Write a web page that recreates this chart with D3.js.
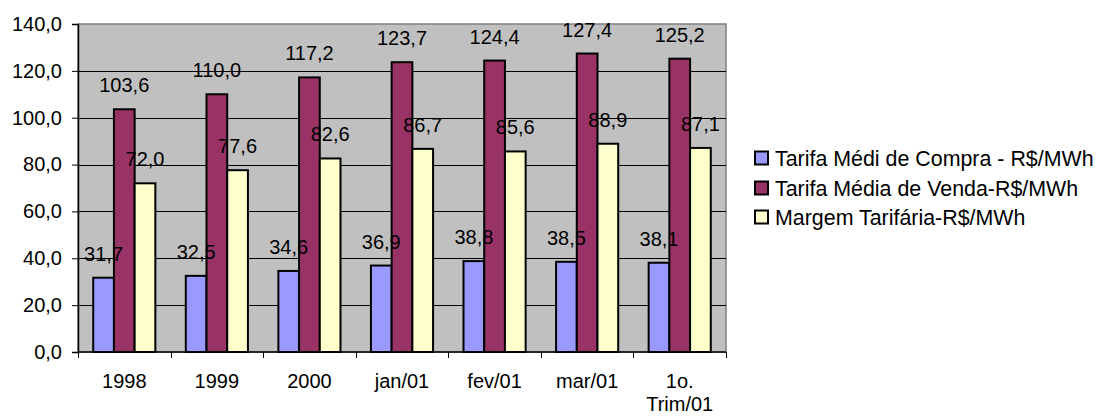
<!DOCTYPE html>
<html>
<head>
<meta charset="utf-8">
<script src="https://cdn.jsdelivr.net/npm/d3@7"></script>
<style>
  html, body { margin: 0; padding: 0; background: #fff; }
  svg { display: block; font-family: "Liberation Sans", Arial, sans-serif; }
</style>
</head>
<body>
<svg id="chart" width="1097" height="417"></svg>
<script>
// Categories along the x axis (the last one wraps onto two lines)
const categories = ["1998", "1999", "2000", "jan/01", "fev/01", "mar/01", "1o.\nTrim/01"];

// Series names as shown in the legend
const seriesNames = [
  "Tarifa Médi de Compra - R$/MWh",
  "Tarifa Média de Venda-R$/MWh",
  "Margem Tarifária-R$/MWh"
];

// Values per series, one per category
const compra = [31.7, 32.5, 34.6, 36.9, 38.8, 38.5, 38.1];
const venda  = [103.6, 110.0, 117.2, 123.7, 124.4, 127.4, 125.2];
const margem = [72.0, 77.6, 82.6, 86.7, 85.6, 88.9, 87.1];

// Y axis tick values
const yTicks = [0, 20, 40, 60, 80, 100, 120, 140];

const seriesValues = [compra, venda, margem];
const colors = ["#9999FF", "#993366", "#FFFFCC"];

const fmt = v => v.toFixed(1).replace(".", ",");

const svg = d3.select("#chart");
const plot = { left: 78, right: 726, top: 24, bottom: 352 };

const y = d3.scaleLinear().domain([0, 140]).range([plot.bottom, plot.top]);
const x0 = d3.scaleBand().domain(categories).range([plot.left, plot.right]).paddingInner(0).paddingOuter(0);
const x1 = d3.scaleBand().domain(d3.range(seriesNames.length))
  .range([0, x0.bandwidth()]).paddingInner(0).paddingOuter(0.735);

// Plot area background
svg.append("rect")
  .attr("x", plot.left).attr("y", plot.top)
  .attr("width", plot.right - plot.left).attr("height", plot.bottom - plot.top)
  .attr("fill", "#C0C0C0").attr("stroke", "#808080").attr("stroke-width", 1.5);

// Horizontal gridlines
svg.append("g").selectAll("line")
  .data(yTicks.filter(t => t > 0 && t < 140))
  .join("line")
  .attr("x1", plot.left).attr("x2", plot.right)
  .attr("y1", d => Math.round(y(d)) + 0.5).attr("y2", d => Math.round(y(d)) + 0.5)
  .attr("stroke", "#000").attr("stroke-width", 1);

// Y axis
const yAxis = d3.axisLeft(y).tickValues(yTicks).tickSize(6).tickPadding(10).tickFormat(fmt);
const gy = svg.append("g").attr("transform", `translate(${plot.left},0)`).call(yAxis);
gy.select(".domain").attr("stroke", "#000").attr("stroke-width", 1.5);
gy.selectAll(".tick line").attr("stroke", "#000");
gy.selectAll(".tick text").attr("font-size", 20).attr("fill", "#000")
  .attr("font-family", "Liberation Sans, Arial, sans-serif");

// Bars
const groups = svg.append("g").selectAll("g")
  .data(categories)
  .join("g")
  .attr("transform", d => `translate(${x0(d)},0)`);

groups.each(function(cat, ci) {
  const g = d3.select(this);
  seriesValues.forEach((vals, si) => {
    const v = vals[ci];
    g.append("rect")
      .attr("x", x1(si)).attr("width", x1.bandwidth())
      .attr("y", y(v)).attr("height", y(0) - y(v))
      .attr("fill", colors[si]).attr("stroke", "#000").attr("stroke-width", 2);
  });
});

// X axis line and category ticks
svg.append("line")
  .attr("x1", plot.left).attr("x2", plot.right)
  .attr("y1", plot.bottom).attr("y2", plot.bottom)
  .attr("stroke", "#000").attr("stroke-width", 1.5);
const boundaries = categories.map(c => x0(c)).concat([plot.right]);
svg.append("g").selectAll("line")
  .data(boundaries)
  .join("line")
  .attr("x1", d => Math.round(d) + 0.5).attr("x2", d => Math.round(d) + 0.5)
  .attr("y1", plot.bottom).attr("y2", plot.bottom + 6)
  .attr("stroke", "#000");

// Category labels
svg.append("g").selectAll("text")
  .data(categories)
  .join("text")
  .attr("x", d => x0(d) + x0.bandwidth() / 2)
  .attr("y", 388)
  .attr("text-anchor", "middle")
  .attr("font-size", 20)
  .attr("fill", "#000")
  .each(function(d) {
    const lines = d.split("\n");
    d3.select(this).selectAll("tspan").data(lines).join("tspan")
      .attr("x", x0(d) + x0.bandwidth() / 2)
      .attr("dy", (l, i) => i === 0 ? 0 : 23)
      .text(l => l);
  });

// Value labels above bars
groups.each(function(cat, ci) {
  const g = d3.select(this);
  seriesValues.forEach((vals, si) => {
    const v = vals[ci];
    g.append("text")
      .attr("x", x1(si) + x1.bandwidth() / 2)
      .attr("y", y(v) - 17)
      .attr("text-anchor", "middle")
      .attr("font-size", 20)
      .attr("fill", "#000")
      .text(fmt(v));
  });
});

// Legend
const legend = svg.append("g").attr("transform", "translate(755,0)");
const rowY = [158, 188, 217];
seriesNames.forEach((name, i) => {
  legend.append("rect")
    .attr("x", 0).attr("y", rowY[i] - 6.5)
    .attr("width", 13).attr("height", 13)
    .attr("fill", colors[i]).attr("stroke", "#000").attr("stroke-width", 2);
  legend.append("text")
    .attr("x", 20).attr("y", rowY[i] + 7.5)
    .attr("font-size", 21.4)
    .attr("fill", "#000")
    .text(name);
});
</script>
</body>
</html>
